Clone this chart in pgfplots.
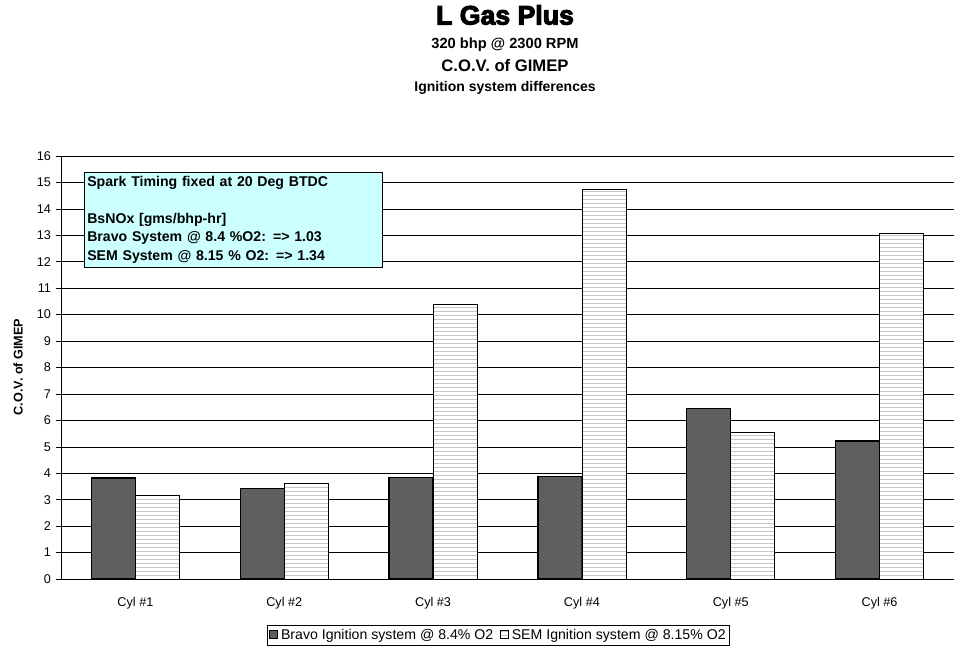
\documentclass[border=0pt]{standalone}
\usepackage{fontspec}
\setmainfont{Liberation Sans}
\newfontfamily\heavy[FakeBold=4]{Liberation Sans Bold}
\usepackage{pgfplots}
\pgfplotsset{compat=1.18}
\usetikzlibrary{patterns}
\definecolor{boxcyan}{HTML}{CCFFFF}
\definecolor{darkbar}{HTML}{5F5F5F}
\begin{document}
\begin{tikzpicture}
\useasboundingbox (-45.75pt,-51.75pt) rectangle (679.5pt,434.25pt);
\begin{axis}[
  at={(0,0)}, anchor=south west,
  scale only axis, width=669.75pt, height=317.25pt,
  ybar=0pt, bar width=33pt,
  xmin=-0.5, xmax=5.5, ymin=0, ymax=16,
  ytick={0,1,...,16},
  xtick={0,1,2,3,4,5},
  xticklabels={Cyl \#1,Cyl \#2,Cyl \#3,Cyl \#4,Cyl \#5,Cyl \#6},
  extra x ticks={-0.5,0.5,1.5,2.5,3.5,4.5,5.5},
  extra x tick labels={},
  extra x tick style={major tick length=4pt, tick style={black, thin}, grid=none},
  major x tick style={draw=none},
  axis x line=bottom, axis y line=left,
  axis line style={-, black, thin},
  tick align=outside, major tick length=4pt,
  tick style={black, thin},
  ymajorgrids, grid style={black, thin},
  tick label style={font=\fontsize{9.5}{11}\selectfont},
  /pgf/number format/assume math mode=true,
  xticklabel style={yshift=-6pt},
  legend style={at={(rel axis cs:0.49,0)}, anchor=center, yshift=-42pt,
    draw=black, thin, font=\fontsize{10.6}{12}\selectfont, legend columns=2,
    inner sep=0.8pt, /tikz/every even column/.append style={column sep=3pt}},
  legend image code/.code={\draw[#1] (0cm,-0.1cm) rectangle (0.22cm,0.12cm);},
  clip=false
]
\addplot[fill=darkbar, draw=black, line width=0.9pt] coordinates {(0,3.82) (1,3.43) (2,3.85) (3,3.87) (4,6.45) (5,5.22)};
\addlegendentry{Bravo Ignition system @ 8.4\% O2}
\addplot[fill=white, postaction={pattern=horizontal lines, pattern color=gray!45}, draw=black, line width=0.6pt] coordinates {(0,3.18) (1,3.63) (2,10.38) (3,14.75) (4,5.55) (5,13.07)};
\addlegendentry{SEM Ignition system @ 8.15\% O2}
\node[anchor=north west, draw=black, thin, fill=boxcyan, minimum width=223.5pt, minimum height=71pt, inner sep=2pt, align=left, text width=219pt, font=\fontsize{10.6}{13.9}\selectfont\bfseries]
  at ([xshift=17.25pt,yshift=-12pt]rel axis cs:0,1)
  {Spark Timing fixed at 20 Deg BTDC\\[0pt]\mbox{}\\BsNOx [gms/bhp-hr]\\Bravo System @ 8.4 \%O2: => 1.03\\SEM System @ 8.15 \% O2: => 1.34};
\end{axis}
\node[rotate=90, font=\fontsize{9.5}{11}\selectfont\bfseries] at (-32.25pt,159pt) {C.O.V. of GIMEP};
\node at (333pt,423pt) {\heavy\fontsize{20}{22}\selectfont L Gas Plus};
\node at (333pt,400.5pt) {\bfseries\fontsize{11}{12}\selectfont 320 bhp @ 2300 RPM};
\node at (333pt,384.75pt) {\bfseries\fontsize{12.5}{14}\selectfont C.O.V. of GIMEP};
\node at (333pt,368.25pt) {\bfseries\fontsize{10.5}{12}\selectfont Ignition system differences};
\end{tikzpicture}
\end{document}
